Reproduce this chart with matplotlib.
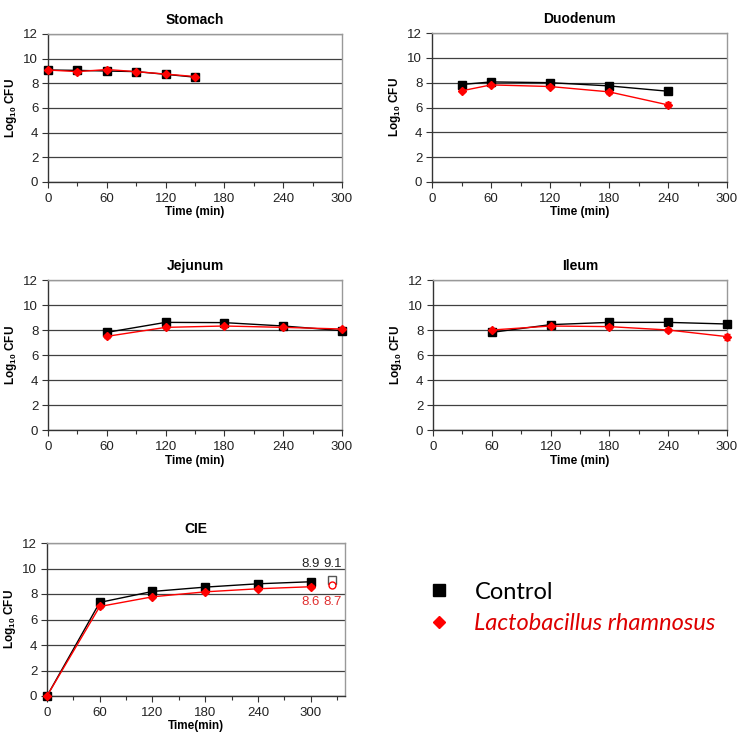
import matplotlib
matplotlib.use("Agg")
import matplotlib.pyplot as plt
from matplotlib.lines import Line2D
from matplotlib.ticker import MultipleLocator

plt.rcParams['font.family'] = ['Liberation Sans', 'DejaVu Sans']
plt.rcParams['mathtext.fontset'] = 'custom'
plt.rcParams['mathtext.rm'] = 'Liberation Sans:bold'
plt.rcParams['mathtext.bf'] = 'Liberation Sans:bold'

# Data (log10 CFU)
stomach_t = [0, 30, 60, 90, 120, 150]
stomach_ctrl = [9.08, 9.05, 9.0, 8.95, 8.73, 8.5]
stomach_lr = [9.08, 8.95, 9.12, 8.95, 8.75, 8.55]
stomach_lr_err = [0.1, 0.1, 0.1, 0.08, 0.08, 0.08]

duod_t = [30, 60, 120, 180, 240]
duod_ctrl = [7.85, 8.06, 8.0, 7.74, 7.31]
duod_lr = [7.34, 7.82, 7.69, 7.26, 6.21]
duod_lr_err = [0.1, 0.1, 0.15, 0.15, 0.2]

jej_t = [60, 120, 180, 240, 300]
jej_ctrl = [7.81, 8.61, 8.59, 8.32, 7.95]
jej_lr = [7.49, 8.21, 8.32, 8.21, 8.08]
jej_lr_err = [0.1, 0.1, 0.1, 0.1, 0.1]

ileum_t = [60, 120, 180, 240, 300]
ileum_ctrl = [7.81, 8.43, 8.61, 8.61, 8.48]
ileum_lr = [8.0, 8.32, 8.27, 8.0, 7.47]
ileum_lr_err = [0.1, 0.1, 0.15, 0.15, 0.25]

cie_t = [0, 60, 120, 180, 240, 300]
cie_ctrl = [0, 7.34, 8.2, 8.54, 8.8, 8.96]
cie_lr = [0, 7.02, 7.78, 8.17, 8.41, 8.57]
cie_lr_err = [0, 0.1, 0.1, 0.1, 0.1, 0.1]
cie_extra_t = 324
cie_extra_ctrl = 9.1
cie_extra_lr = 8.7
cie_label_t = [300, 325]
cie_ctrl_labels = ['8.9', '9.1']
cie_lr_labels = ['8.6', '8.7']

W, H = 746, 745
fig = plt.figure(figsize=(W / 100, H / 100), dpi=100)


def make_ax(left, right, top, bottom):
    return fig.add_axes([left / W, 1 - bottom / H, (right - left) / W, (bottom - top) / H])


def style_ax(ax, title, xlabel, xmax=300, title_pad=7):
    ax.set_xlim(0, xmax)
    ax.set_ylim(0, 12)
    ax.set_yticks(range(0, 13, 2))
    ax.set_xticks(range(0, 301, 60))
    ax.xaxis.set_minor_locator(MultipleLocator(30))
    ax.grid(axis='y', color='#404040', linewidth=0.9)
    ax.set_axisbelow(True)
    for s in ['top', 'right']:
        ax.spines[s].set_color('#999999')
        ax.spines[s].set_linewidth(1.0)
    for s in ['left', 'bottom']:
        ax.spines[s].set_color('#333333')
        ax.spines[s].set_linewidth(1.0)
    ax.tick_params(axis='both', which='major', direction='out', length=4,
                   width=0.8, color='#333333', labelsize=9.5, pad=3,
                   labelcolor='#222222')
    ax.tick_params(axis='x', which='major', pad=4)
    ax.tick_params(axis='x', which='minor', direction='out', length=3,
                   width=0.8, color='#333333')
    ax.set_title(title, fontsize=10, fontweight='bold', pad=title_pad)
    ax.set_xlabel(xlabel, fontsize=8.5, fontweight='bold', labelpad=1)
    ax.set_ylabel(r'Log$_{\mathbf{10}}$ CFU', fontsize=8.5, fontweight='bold',
                  labelpad=3)


def draw(ax, t, ctrl, lr, lr_err):
    ax.plot(t, ctrl, color='black', linewidth=1.0, marker='s', markersize=6,
            zorder=3, clip_on=False)
    ax.errorbar(t, lr, yerr=lr_err, color='red', linewidth=1.0, marker='D',
                markersize=4.2, ecolor='red', elinewidth=0.8, capsize=2,
                zorder=4, clip_on=False)


ax1 = make_ax(48, 342, 34, 182)
draw(ax1, stomach_t, stomach_ctrl, stomach_lr, stomach_lr_err)
style_ax(ax1, 'Stomach', 'Time (min)')

ax2 = make_ax(432, 727, 33, 182)
draw(ax2, duod_t, duod_ctrl, duod_lr, duod_lr_err)
style_ax(ax2, 'Duodenum', 'Time (min)')

ax3 = make_ax(48, 342, 280, 430)
draw(ax3, jej_t, jej_ctrl, jej_lr, jej_lr_err)
style_ax(ax3, 'Jejunum', 'Time (min)')

ax4 = make_ax(433, 727, 280, 430)
draw(ax4, ileum_t, ileum_ctrl, ileum_lr, ileum_lr_err)
style_ax(ax4, 'Ileum', 'Time (min)')

ax5 = make_ax(47, 345, 543, 696)
draw(ax5, cie_t, cie_ctrl, cie_lr, cie_lr_err)
ax5.plot([cie_extra_t], [cie_extra_ctrl], marker='s', markersize=5.5,
         markerfacecolor='white', markeredgecolor='#555555', linestyle='none',
         zorder=4)
ax5.plot([cie_extra_t], [cie_extra_lr], marker='o', markersize=5,
         markerfacecolor='white', markeredgecolor='red', linestyle='none',
         zorder=4)
for t, s in zip(cie_label_t, cie_ctrl_labels):
    ax5.text(t, 10.35, s, ha='center', va='center', fontsize=9.5, color='#222222')
for t, s in zip(cie_label_t, cie_lr_labels):
    ax5.text(t, 7.4, s, ha='center', va='center', fontsize=9.5, color='#e03030')
style_ax(ax5, 'CIE', 'Time(min)', xmax=339)
ax5.xaxis.set_minor_locator(MultipleLocator(30))

handles = [Line2D([], [], color='black', marker='s', linestyle='none', markersize=8),
           Line2D([], [], color='red', marker='D', linestyle='none', markersize=6.5)]
leg = fig.legend(handles, ['Control', 'Lactobacillus rhamnosus'],
                 loc='center left', bbox_to_anchor=(406 / W, 1 - 608 / H),
                 frameon=False, handlelength=1.0, handletextpad=1.0,
                 labelspacing=0.45, prop={'family': 'Lato', 'size': 17})
texts = leg.get_texts()
texts[0].set_color('black')
texts[1].set_color('#dd0000')
texts[1].set_fontstyle('italic')

fig.savefig('out.png', dpi=100)
